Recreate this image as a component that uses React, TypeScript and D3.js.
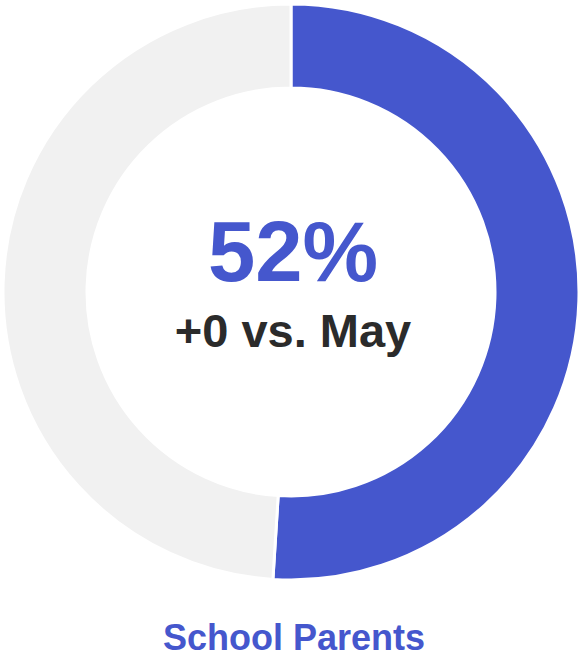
import React from "react";
import * as d3 from "d3";

const categories = ["School Parents", "Other"];
const values = [51, 49];
const colors = ["#4557cd", "#f1f1f1"];
const mainLabel = "52%";
const subLabel = "+0 vs. May";
const title = "School Parents";

export default function App() {
  const width = 580;
  const height = 657;
  const cx = 291;
  const cy = 292;
  const outer = 288;
  const inner = 204;
  const pie = d3.pie<number>().sort(null).value((d) => d);
  const arcs = pie(values);
  const arc = d3.arc<d3.PieArcDatum<number>>().innerRadius(inner).outerRadius(outer);
  return (
    <svg width={width} height={height} style={{ position: "absolute", left: 0, top: 0 }}>
      <g transform={`translate(${cx},${cy})`}>
        {arcs.map((a, i) => (
          <path key={categories[i]} d={arc(a) || ""} fill={colors[i]} stroke="#ffffff" strokeWidth={3} />
        ))}
        <text
          x={2}
          y={-11}
          textAnchor="middle"
          fontFamily="Liberation Sans, Arial, sans-serif"
          fontWeight="bold"
          fontSize={85}
          fill={colors[0]}
        >
          {mainLabel}
        </text>
        <text
          x={2}
          y={55}
          textAnchor="middle"
          fontFamily="Liberation Sans, Arial, sans-serif"
          fontWeight="bold"
          fontSize={47}
          fill="#2b2b2b"
        >
          {subLabel}
        </text>
      </g>
      <text
        x={294}
        y={650}
        textAnchor="middle"
        fontFamily="Liberation Sans, Arial, sans-serif"
        fontWeight="bold"
        fontSize={36}
        fill={colors[0]}
      >
        {title}
      </text>
    </svg>
  );
}
